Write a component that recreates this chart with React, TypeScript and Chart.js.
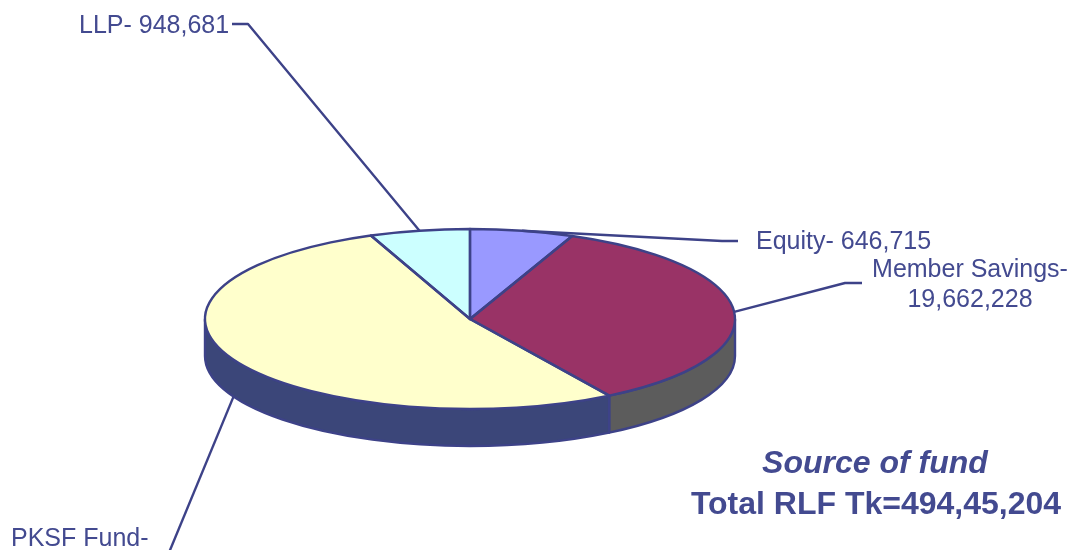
import React, { useEffect, useRef } from "react";
import { Chart, registerables } from "chart.js";

Chart.register(...registerables);

const categories = ["Equity", "Member Savings", "PKSF Fund", "LLP"];
const sliceShares = [6.3, 34.9, 52.7, 6.1];
const sliceColors = ["#9999FF", "#993366", "#FFFFCC", "#CCFFFF"];
const sideColors = ["#6b6bb3", "#5C5C5C", "#3B4679", "#8fb3b3"];
const calloutLines = [["Equity- 646,715"], ["Member Savings-", "19,662,228"], ["PKSF Fund-"], ["LLP- 948,681"]];
const titleLines = ["Source of fund", "Total RLF Tk=494,45,204"];

const WIDTH = 1071;
const HEIGHT = 550;
const CENTER_X = 470;
const CENTER_Y = 319;
const RADIUS = 265;
const RADIUS_Y = 90;
const DEPTH = 37;
const INK = "#3D4288";
const TEXT_INK = "#434A90";
const FONT = '"Liberation Sans", Arial, sans-serif';

// Leader line bends and text placement for each slice, anchored at the slice's outer edge.
const leaders = [
  { points: [[722, 241], [738, 241]], onSide: false, x: 756, ys: [249], align: "left" },
  { points: [[845, 283], [862, 283]], onSide: false, x: 970, ys: [277, 307], align: "center" },
  { points: [[168, 555]], onSide: true, x: 11, ys: [546], align: "left" },
  { points: [[248, 24], [232, 24]], onSide: false, x: 79, ys: [33], align: "left" },
];

const pie3d = {
  id: "pie3d",
  beforeDatasetsDraw(chart: any) {
    const { ctx } = chart;
    const arcs = chart.getDatasetMeta(0).data;
    ctx.save();
    arcs.forEach((arc: any, i: number) => {
      const cx = arc.x;
      const cy = arc.y;
      const rx = arc.outerRadius;
      const ry = (rx * RADIUS_Y) / RADIUS;
      for (const shift of [0, Math.PI * 2, -Math.PI * 2]) {
        const a = Math.max(arc.startAngle + shift, 0);
        const b = Math.min(arc.endAngle + shift, Math.PI);
        if (b <= a) continue;
        ctx.beginPath();
        ctx.ellipse(cx, cy, rx, ry, 0, a, b);
        ctx.lineTo(cx + rx * Math.cos(b), cy + ry * Math.sin(b) + DEPTH);
        ctx.ellipse(cx, cy + DEPTH, rx, ry, 0, b, a, true);
        ctx.closePath();
        ctx.fillStyle = sideColors[i];
        ctx.fill();
        ctx.lineWidth = 2.4;
        ctx.strokeStyle = INK;
        ctx.lineJoin = "round";
        ctx.stroke();
      }
    });
    ctx.restore();
    ctx.save();
    const c = arcs[0];
    ctx.translate(0, c.y);
    ctx.scale(1, RADIUS_Y / RADIUS);
    ctx.translate(0, -c.y);
  },
  afterDatasetsDraw(chart: any) {
    const { ctx } = chart;
    ctx.restore();
    const arcs = chart.getDatasetMeta(0).data;
    const ratio = RADIUS_Y / RADIUS;
    ctx.save();
    ctx.strokeStyle = INK;
    ctx.lineWidth = 2.4;
    ctx.lineJoin = "round";
    arcs.forEach((arc: any) => {
      const rx = arc.outerRadius;
      const ry = rx * ratio;
      ctx.beginPath();
      ctx.moveTo(arc.x, arc.y);
      ctx.ellipse(arc.x, arc.y, rx, ry, 0, arc.startAngle, arc.endAngle);
      ctx.closePath();
      ctx.stroke();
    });

    // Leader lines start at each slice's middle angle.
    arcs.forEach((arc: any, i: number) => {
      const mid = (arc.startAngle + arc.endAngle) / 2;
      const rx = arc.outerRadius;
      const ry = rx * ratio;
      const leader = leaders[i];
      ctx.beginPath();
      ctx.moveTo(arc.x + rx * Math.cos(mid), arc.y + ry * Math.sin(mid) + (leader.onSide ? DEPTH : 0));
      leader.points.forEach(([x, y]) => ctx.lineTo(x, y));
      ctx.stroke();
    });

    ctx.fillStyle = TEXT_INK;
    ctx.textBaseline = "alphabetic";
    ctx.font = `25px ${FONT}`;
    calloutLines.forEach((lines, i) => {
      const leader = leaders[i];
      ctx.textAlign = leader.align;
      lines.forEach((line, j) => ctx.fillText(line, leader.x, leader.ys[j]));
    });

    ctx.textAlign = "center";
    ctx.font = `italic bold 32px ${FONT}`;
    ctx.fillText(titleLines[0], 875, 473);
    ctx.font = `bold 32px ${FONT}`;
    ctx.fillText(titleLines[1], 876, 514);
    ctx.restore();
  },
};

export default function App() {
  const canvasRef = useRef<HTMLCanvasElement>(null);
  useEffect(() => {
    document.body.style.margin = "0";
    const chart = new Chart(canvasRef.current as HTMLCanvasElement, {
      type: "pie",
      data: {
        labels: categories,
        datasets: [{ data: sliceShares, backgroundColor: sliceColors, borderWidth: 0 }],
      },
      options: {
        responsive: false,
        animation: false,
        events: [],
        radius: RADIUS,
        layout: {
          padding: {
            left: 0,
            right: WIDTH - CENTER_X * 2,
            top: HEIGHT - (HEIGHT - CENTER_Y) * 2,
            bottom: 0,
          },
        },
        plugins: { legend: { display: false }, tooltip: { enabled: false }, title: { display: false } },
      },
      plugins: [pie3d],
    } as any);
    return () => chart.destroy();
  }, []);
  return <canvas ref={canvasRef} width={WIDTH} height={HEIGHT} style={{ display: "block" }} />;
}
